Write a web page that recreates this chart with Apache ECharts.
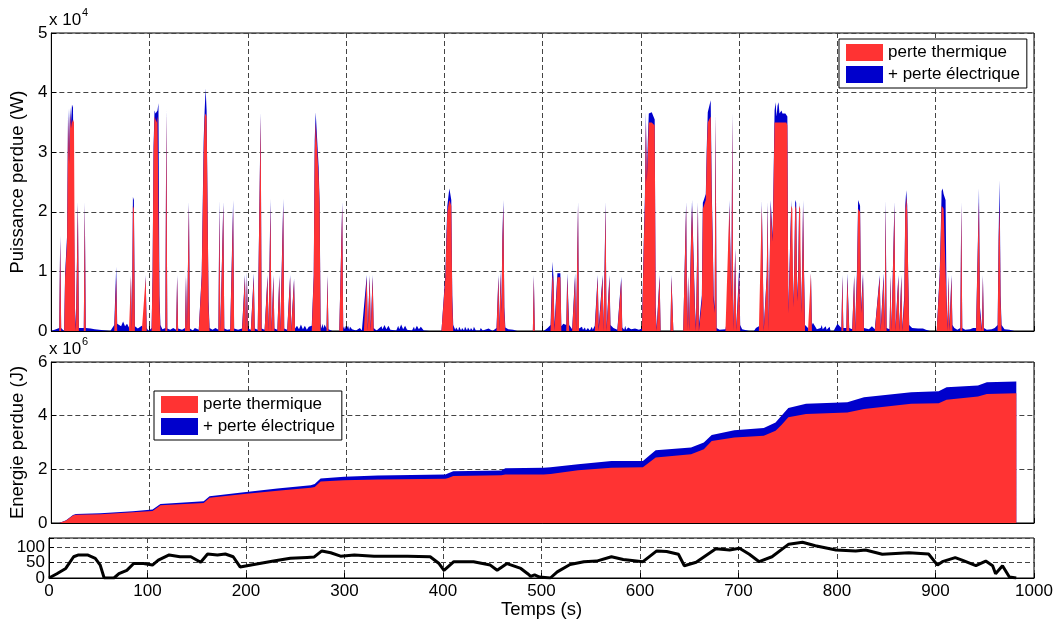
<!DOCTYPE html>
<html>
<head>
<meta charset="utf-8">
<title>Pertes</title>
<script src="https://cdn.jsdelivr.net/npm/echarts@6.0.0/dist/echarts.min.js"></script>
<style>
  html, body { margin: 0; padding: 0; background: #fff; }
  #chart { width: 1059px; height: 623px; }
</style>
</head>
<body>
<div id="chart"></div>
<script>
// puissance perdue : [temps (s), perte thermique (W), thermique + électrique (W)]
var puissance = [
  [0,0,0],[8,0,500],[9,15000,16000],[10,0,500],[13,0,0],[14,9000,9700],[15,9000,9700],[16,15000,16000],
  [17,36000,37300],[18,28000,30000],[19,36500,37500],[20,34000,35000],[21,35500,38000],[22,35000,37500],
  [23,35500,37800],[24,3000,4000],[25,0,1000],[26,0,800],[27,21000,21700],[28,0,500],[30,0,600],[33,0,500],
  [34,21000,21700],[35,0,500],[37,0,600],[40,0,400],[44,0,300],[46,0,0],
  [60,0,0],[62,0,500],[64,0,1000],[66,9000,10800],[67,0,1200],[69,0,1500],[71,0,800],[73,0,1600],[75,0,800],
  [77,0,1200],[79,0,600],[80,0,0],[81,9000,9400],[82,0,1000],[83,21000,22500],[84,20500,22000],[85,0,800],
  [88,0,400],[92,0,900],[94,0,300],[96,9000,9400],[97,0,500],[99,0,0],
  [102,0,500],[103,9000,9700],[104,30000,31000],[105,36000,37000],[106,35500,36500],[107,35000,36500],
  [108,36000,37000],[109,36000,38200],[110,5000,6000],[111,0,1000],[113,0,300],[116,0,500],[117,36500,37300],
  [118,0,400],[121,0,200],[124,0,500],[127,0,200],[128,9000,9400],[129,0,400],[133,0,200],[136,0,500],
  [137,9000,9400],[138,0,400],[140,21000,21700],[141,0,400],[144,0,100],[146,0,500],[150,0,200],[152,0,500],
  [153,9000,9500],[154,9000,9500],[155,30000,32000],[156,36000,37000],[157,36500,40700],[158,36000,37000],
  [159,36000,36700],[160,4000,5000],[161,0,500],[164,0,200],[167,0,500],[170,0,200],[171,20500,22000],
  [172,0,400],[175,21000,21700],[176,0,400],[179,0,200],[182,0,300],[185,20500,22000],[186,0,400],
  [190,0,200],[194,0,400],[197,9000,9400],[198,0,200],[199,9000,9900],[200,0,400],[203,0,200],
  [206,9000,9700],[207,0,400],[210,0,200],[213,36000,36700],[214,0,400],[217,0,200],[220,9000,9400],
  [221,0,400],[223,21000,22200],[224,0,400],[226,9000,9400],[227,0,400],[230,0,200],[232,9000,9400],
  [233,0,400],[236,21000,22200],[237,0,400],[240,0,200],[243,9000,9400],[244,0,400],[247,8500,8800],
  [248,0,400],[250,0,900],[252,0,300],[254,0,1100],[256,0,300],[258,0,900],[260,0,200],[262,0,700],
  [265,0,900],[267,9000,9400],
  [268,30000,32000],[269,35000,36700],[270,35000,36700],[271,35000,36500],[272,26000,27500],
  [273,21000,21700],[274,0,1200],[275,0,400],[276,0,1200],[277,0,400],[278,0,1100],[280,0,400],
  [281,9000,9400],[282,0,300],[286,0,0],
  [293,0,0],[295,0,300],[296,21000,21700],[297,0,800],[298,0,300],[299,0,900],[300,0,300],[302,0,900],
  [303,0,200],[304,0,700],[306,0,300],[310,0,100],[314,0,500],[316,0,100],[318,0,400],[321,9000,9400],
  [322,0,500],[324,9000,9400],[325,0,700],[327,9000,9400],[328,0,500],[331,0,100],[336,0,800],[337,0,300],
  [339,0,1000],[341,0,300],[343,0,900],[345,0,200],[347,0,100],[351,0,100],[353,0,900],[354,0,300],
  [356,0,1100],[358,0,300],[360,0,900],[362,0,200],[367,0,100],[369,0,700],[370,0,200],[372,0,900],
  [374,0,300],[376,0,700],[379,0,100],[385,0,0],
  [397,0,0],[399,0,300],[401,9000,9700],[402,15000,16000],[403,20000,21000],[404,21000,22500],
  [405,22000,23900],[406,21500,23000],[407,21000,22000],[408,5000,6000],[409,0,1000],[411,0,200],
  [412,0,600],[414,0,100],[415,0,700],[417,0,100],[418,0,500],[420,0,100],[421,0,700],[423,0,100],
  [424,0,600],[426,0,100],[427,0,500],[429,0,100],[430,0,700],[432,0,100],[433,0,400],[436,0,100],
  [437,0,500],[439,0,100],[440,0,300],[445,0,400],[449,0,0],
  [451,0,0],[453,0,500],[455,9000,9400],[456,0,1000],[457,9500,10200],[458,3000,4000],[459,15000,16000],
  [460,21000,22000],[461,3000,4000],[462,0,600],[465,0,300],[470,0,200],[474,0,0],[490,0,0],
  [491,9000,9400],[492,0,0],[497,0,0],[499,0,300],[501,0,0],
  [503,0,0],[505,0,500],[508,0,1000],[510,9500,11600],[511,8000,9000],[512,0,1000],[514,0,1000],
  [515,9000,9700],[516,9000,9700],[517,9000,9700],[518,9000,9700],[519,0,800],[521,0,1200],[524,0,1000],
  [525,9000,9700],[526,9000,9700],[527,0,1000],[530,0,300],[533,9000,9700],[534,0,400],[536,21000,21700],
  [537,0,400],[540,0,700],[541,0,200],[543,0,600],[544,0,100],[546,0,500],[548,0,100],[550,0,700],
  [551,0,200],[553,0,900],[556,9000,9400],[557,0,800],
  [561,9000,9400],[562,0,600],[564,21000,21700],[565,0,600],[568,9000,9400],[569,0,1000],[572,0,500],
  [576,0,200],[580,8500,9100],[581,0,600],[583,0,200],[584,0,900],[585,0,200],[587,0,600],[590,0,300],
  [594,0,400],[598,0,200],
  [601,0,400],[603,15000,16000],[604,21000,22200],[605,35000,36700],[606,25000,26000],[607,30000,32000],
  [608,35000,36500],[609,35000,36600],[610,35000,36500],[611,35000,36700],[612,35000,36500],
  [613,35000,36500],[614,34500,35500],[615,3000,4000],[616,0,500],[619,9000,9400],[620,0,0],
  [630,0,0],[631,9000,9400],[632,9000,9400],[633,0,0],
  [643,0,0],[645,0,300],[646,21000,21700],[647,0,1000],[648,9000,9400],[649,0,1000],[651,15000,16000],
  [652,21000,22000],[653,21000,22000],[654,21000,22000],[655,3000,4000],[656,0,1000],[658,21000,21700],
  [659,0,1000],[662,5000,6000],[663,20500,21500],[664,21000,22000],[665,21000,22000],[666,22000,23000],
  [667,30000,31000],[668,35000,36700],[669,35000,36700],[670,35000,37000],[671,36000,38700],
  [672,23000,24000],[673,15000,16000],[674,5000,6000],[675,3000,4000],[676,36000,36500],[677,0,500],
  [680,0,200],[686,0,300],[687,0,1200],[688,0,300],[690,21000,22000],[691,21000,22000],[692,5000,6000],
  [693,36000,36700],[694,0,1000],[696,13500,13900],[697,0,500],[700,9500,10800],[701,0,1000],[703,0,300],
  [710,0,0],[715,0,0],[717,0,500],[720,0,800],[722,0,300],[723,21000,22000],[724,21000,22000],[725,0,500],
  [728,9000,9400],[729,21000,21700],[730,0,800],[732,21000,22000],[733,21000,22000],[734,15000,16000],
  [735,25000,26000],[736,35000,37000],[737,35000,38400],[738,35000,36000],[739,35000,37800],
  [740,35000,38400],[741,35000,36500],[742,35000,36700],[743,35000,37000],[744,35000,36500],
  [745,35000,36500],[746,35000,36700],[747,35000,36500],[748,35000,36500],[749,34500,36000],
  [750,3000,4000],[751,9000,9500],[752,15000,16000],[753,21000,22000],[754,20500,22000],[755,4000,5000],
  [756,10000,11000],[757,21000,22000],[758,20500,21500],[759,5000,6000],[760,9000,10000],[761,21000,21700],
  [762,20500,21500],[763,3000,4000],[764,9000,9900],[765,21000,22000],[766,9000,9900],[767,0,1000],
  [770,0,500],[772,0,0],[773,9700,9700],[774,0,1000],[775,0,1400],[777,0,1200],[779,0,300],[783,0,500],
  [784,0,1000],[785,0,300],[788,0,800],[789,0,200],[792,0,700],[793,0,0],
  [796,0,0],[798,0,200],[800,0,1200],[802,0,1000],[804,0,500],[805,9000,9400],[806,0,500],[809,0,500],
  [810,9000,9700],[811,9000,9700],[812,0,500],[815,0,300],[817,9000,9400],[818,0,500],[820,10000,11000],
  [821,20500,22000],[822,20500,22000],[823,20000,21000],[824,3000,4000],[826,9000,9700],[827,0,500],
  [829,0,500],[832,0,300],[835,0,800],[838,0,300],[843,9000,9400],[844,0,500],[847,9000,9700],
  [848,0,1000],[849,21000,22000],[850,0,500],[853,0,300],[854,9000,9400],[855,0,500],[858,21000,21700],
  [859,0,500],[862,9000,9400],[863,0,500],[865,9000,9400],[866,0,500],[868,5000,6000],[869,20000,21000],
  [870,22500,23600],[871,20000,21000],[872,9000,9400],[873,0,1000],[876,0,500],[878,0,300],[882,0,400],
  [884,0,300],[887,0,400],[890,0,200],[894,0,0],
  [901,0,0],[903,0,300],[904,9000,9700],[905,15000,16000],[906,21000,23500],[907,21000,23900],
  [908,20500,23000],[909,20500,22500],[910,20500,22000],[911,5000,6000],[912,0,1000],[913,9000,9400],
  [914,0,1000],[916,9000,9400],[917,0,1000],[919,0,500],[922,0,200],[925,0,500],[926,21000,21700],
  [927,0,500],[930,0,200],[935,0,300],[938,0,500],[941,0,500],[943,15000,16000],[944,21700,23900],
  [945,3000,4000],[947,0,500],[948,9000,9400],[949,0,500],[952,0,200],[957,0,300],[960,0,500],
  [963,0,1000],[964,15000,16000],[965,21000,25300],[966,5000,6000],[967,0,1000],[970,0,300],[975,0,200],
  [980,0,0],[1000,0,0]
]

// énergie perdue cumulée : [temps (s), perte thermique (J), thermique + électrique (J)]
var energie = [
  [0,0,0],[8,0,0],[15,0.09e6,0.10e6],[22,0.28e6,0.30e6],[25,0.31e6,0.34e6],[50,0.33e6,0.36e6],
  [83,0.40e6,0.44e6],[103,0.45e6,0.50e6],[111,0.66e6,0.71e6],[155,0.75e6,0.81e6],[161,0.94e6,1.00e6],
  [196,1.08e6,1.15e6],[230,1.20e6,1.29e6],[264,1.31e6,1.41e6],[268,1.34e6,1.45e6],[274,1.55e6,1.66e6],
  [298,1.59e6,1.72e6],[332,1.62e6,1.77e6],[401,1.65e6,1.81e6],[404,1.68e6,1.85e6],[409,1.75e6,1.93e6],
  [458,1.78e6,1.96e6],[462,1.81e6,2.04e6],[501,1.81e6,2.06e6],[508,1.83e6,2.08e6],[536,1.97e6,2.19e6],
  [570,2.06e6,2.31e6],[602,2.08e6,2.31e6],[608,2.25e6,2.50e6],[615,2.44e6,2.71e6],[651,2.56e6,2.81e6],
  [664,2.75e6,3.00e6],[672,3.06e6,3.28e6],[695,3.19e6,3.46e6],[725,3.25e6,3.54e6],[737,3.44e6,3.75e6],
  [743,3.65e6,4.00e6],[750,3.94e6,4.29e6],[768,4.06e6,4.44e6],[810,4.12e6,4.50e6],[827,4.25e6,4.69e6],
  [875,4.44e6,4.87e6],[903,4.46e6,4.91e6],[911,4.59e6,5.06e6],[943,4.71e6,5.12e6],[952,4.81e6,5.25e6],
  [982,4.84e6,5.27e6]
]

// vitesse du véhicule : [temps (s), vitesse]
var vitesse = [
  [0,0],[2,0],[8,14],[17,31],[25,69],[30,75],[39,75],[47,64],[52,42],[56,0],[66,0],[71,14],[79,25],
  [86,47],[96,47],[105,42],[111,58],[122,75],[133,69],[144,69],[154,51],[161,78],[171,75],[179,78],
  [187,69],[194,36],[208,44],[228,55],[245,64],[262,67],[269,68],[277,88],[286,82],[296,71],[310,75],
  [330,71],[364,71],[387,69],[396,47],[401,25],[411,53],[431,53],[448,42],[455,25],[465,47],[479,31],
  [486,14],[489,5],[493,10],[498,3],[509,0],[516,20],[529,44],[543,53],[556,55],[571,69],[583,60],
  [603,53],[617,88],[627,86],[639,77],[645,40],[657,51],[677,95],[691,91],[701,97],[711,77],[721,53],
  [734,69],[751,110],[765,116],[778,105],[799,91],[819,88],[829,91],[846,77],[873,82],[893,78],[902,42],
  [907,53],[920,66],[927,58],[941,40],[951,55],[958,40],[961,14],[968,40],[975,3],[982,0]
]

// graduations de l'axe des vitesses (réparties sur deux axes pour que 0/50/100 restent tous visibles)
var ticksVitesseA = [0, 100]
var ticksVitesseB = [50]

var nomThermique = 'perte thermique'
var nomElectrique = '+ perte électrique'
var rouge = '#ff3333'
var bleu = '#0000cc'
var police = '"Liberation Sans", Arial, Helvetica, sans-serif'

function axeX(grille, etiquettes) {
  return {
    type: 'value',
    gridIndex: grille,
    min: 0,
    max: 1000,
    interval: 100,
    name: etiquettes ? 'Temps (s)' : '',
    nameLocation: 'middle',
    nameGap: 20,
    nameTextStyle: { color: '#000', fontSize: 18.5, fontFamily: police },
    axisLine: { lineStyle: { color: '#000', width: 1 } },
    axisTick: { inside: true, length: 5, lineStyle: { color: '#000' } },
    axisLabel: {
      show: etiquettes, color: '#000', fontSize: 17, margin: 5, fontFamily: police,
      formatter: function (v) { return String(v) },
    },
    splitLine: { show: true, lineStyle: { color: '#444', type: [5, 3], width: 1 } },
  }
}

function axeY(grille, max, pas, nom, format) {
  return {
    type: 'value',
    gridIndex: grille,
    position: 'left',
    offset: 0,
    min: 0,
    max: max,
    interval: pas,
    name: nom,
    nameLocation: 'middle',
    nameGap: 17,
    nameTextStyle: { color: '#000', fontSize: 18.5, fontFamily: police },
    axisLine: { show: true, lineStyle: { color: '#000', width: 1 } },
    axisTick: { show: true, inside: true, length: 5, lineStyle: { color: '#000' } },
    axisLabel: {
      color: '#000', fontSize: 17, margin: 4, fontFamily: police,
      showMinLabel: true, hideOverlap: false, formatter: format,
    },
    splitLine: { show: true, lineStyle: { color: '#444', type: [5, 3], width: 1 } },
  }
}

function aire(nom, grille, data, couleur) {
  return {
    name: nom,
    type: 'line',
    xAxisIndex: grille,
    yAxisIndex: grille,
    data: data,
    symbol: 'none',
    color: couleur,
    lineStyle: { width: 0, color: couleur },
    areaStyle: { color: couleur, opacity: 1 },
  }
}

function legende(gauche, haut) {
  return {
    data: [nomThermique, nomElectrique],
    left: gauche,
    top: haut,
    orient: 'vertical',
    icon: 'rect',
    itemWidth: 37,
    itemHeight: 17,
    itemGap: 5,
    padding: [5, 7, 5, 7],
    borderColor: '#000',
    borderWidth: 1,
    borderRadius: 0,
    backgroundColor: '#fff',
    selectedMode: false,
    textStyle: { color: '#000', fontSize: 17, fontFamily: police },
  }
}

var myChart = echarts.init(document.getElementById('chart'))

var axeVitesse = axeY(2, 130, 50, '', function (v) { return String(v) })
axeVitesse.axisLabel.customValues = ticksVitesseA

// second axe, sans trait ni grille, qui ne porte que l'étiquette 50
var axeVitesse50 = axeY(2, 130, 50, '', function (v) { return String(v) })
axeVitesse50.axisLabel.customValues = ticksVitesseB
axeVitesse50.axisLine.show = false
axeVitesse50.axisTick.show = false
axeVitesse50.splitLine.show = false

var option = {
  animation: false,
  backgroundColor: '#fff',
  grid: [
    { left: 49, top: 33, width: 985, height: 298, show: true, borderColor: '#000', borderWidth: 1 },
    { left: 49, top: 362, width: 985, height: 161, show: true, borderColor: '#000', borderWidth: 1 },
    { left: 49, top: 538, width: 985, height: 40, show: true, borderColor: '#000', borderWidth: 1 },
  ],
  xAxis: [axeX(0, false), axeX(1, false), axeX(2, true)],
  yAxis: [
    axeY(0, 50000, 10000, 'Puissance perdue (W)', function (v) { return String(v / 1e4) }),
    axeY(1, 6e6, 2e6, 'Energie perdue (J)', function (v) { return String(v / 1e6) }),
    axeVitesse,
    axeVitesse50,
  ],
  legend: [legende(839, 39), legende(154, 391)],
  graphic: [
    { type: 'text', left: 49, top: 12, style: { text: 'x 10', font: '17px ' + police, fill: '#000' } },
    { type: 'text', left: 82, top: 7, style: { text: '4', font: '11px ' + police, fill: '#000' } },
    { type: 'text', left: 49, top: 341, style: { text: 'x 10', font: '17px ' + police, fill: '#000' } },
    { type: 'text', left: 82, top: 336, style: { text: '6', font: '11px ' + police, fill: '#000' } },
  ],
  series: [
    aire(nomElectrique, 0, puissance.map(function (d) { return [d[0], d[2]] }), bleu),
    aire(nomThermique, 0, puissance.map(function (d) { return [d[0], d[1]] }), rouge),
    aire(nomElectrique, 1, energie.map(function (d) { return [d[0], d[2]] }), bleu),
    aire(nomThermique, 1, energie.map(function (d) { return [d[0], d[1]] }), rouge),
    {
      name: 'vitesse',
      type: 'line',
      xAxisIndex: 2,
      yAxisIndex: 2,
      data: vitesse,
      symbol: 'none',
      lineStyle: { color: '#000', width: 3 },
    },
  ],
}

myChart.setOption(option)
</script>
</body>
</html>
